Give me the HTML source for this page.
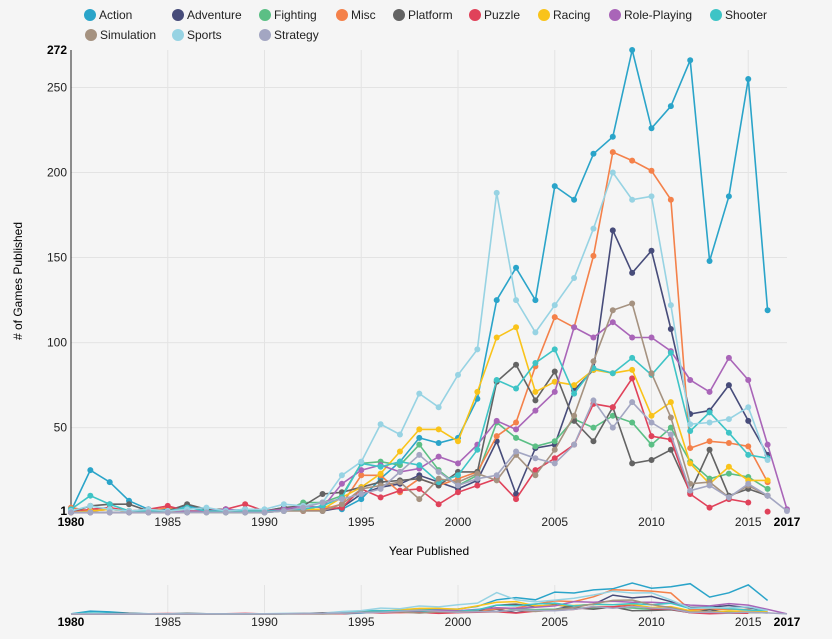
<!DOCTYPE html>
<html><head><meta charset="utf-8"><style>
body{margin:0;background:#f5f5f5;font-family:"Liberation Sans",sans-serif}
svg text{font-family:"Liberation Sans",sans-serif}
</style></head><body>
<svg id="s" width="832" height="634" xmlns="http://www.w3.org/2000/svg"></svg>
<script>
const S=document.getElementById('s');let h='';
const X=y=>71+(y-1980)*19.35, Y=v=>511-(v-1)*1.701, MY=v=>614-(v)*0.114;
const series=[
["Action","#2aa4c9",[1,25,18,7,2,2,4,2,1,2,1,3,2,4,2,8,20,30,44,41,44,67,125,144,125,192,184,211,221,272,226,239,266,148,186,255,119]],
["Adventure","#474c7a",[0,0,0,0,0,0,0,1,0,0,0,2,2,1,3,11,15,17,22,18,14,19,42,11,38,40,72,84,166,141,154,108,58,60,75,54,34]],
["Fighting","#5bbf85",[0,1,2,1,1,1,1,0,0,0,0,1,6,6,10,29,30,28,40,25,16,22,53,44,39,42,55,50,57,53,40,50,30,20,23,21,14]],
["Misc","#f4814a",[3,1,2,1,1,3,1,1,1,1,1,2,1,2,5,22,22,12,20,16,20,24,45,53,86,115,109,151,212,207,201,184,38,42,41,39,18]],
["Platform","#636363",[0,4,5,5,1,1,5,2,2,1,1,3,4,11,12,15,18,19,20,16,24,24,77,87,66,83,54,42,62,29,31,37,12,37,10,14,10]],
["Puzzle","#e0425a",[0,2,3,1,2,4,1,1,2,5,1,2,1,2,3,14,9,13,14,5,12,16,20,8,25,32,40,64,62,79,45,43,11,3,8,6]],
["Racing","#f9c31a",[0,1,2,1,1,1,1,1,1,1,1,1,2,2,9,15,23,36,49,49,42,71,103,109,71,77,75,84,82,84,57,65,29,17,27,19,19]],
["Role-Playing","#a965b8",[0,0,0,0,0,0,1,1,2,1,1,2,4,3,17,25,28,24,26,33,29,40,54,49,60,71,109,103,112,103,103,95,78,71,91,78,40,2]],
["Shooter","#3ec4c6",[2,10,5,1,1,1,3,1,1,1,1,1,2,4,9,29,27,30,28,18,22,37,78,73,88,96,70,85,82,91,81,94,48,59,47,34,32]],
["Simulation","#a59280",[0,0,0,0,0,0,0,0,0,0,0,1,1,1,5,14,16,18,8,20,18,23,19,34,22,37,57,89,119,123,82,56,17,18,9,16,10]],
["Sports","#97d3e3",[1,4,2,1,2,1,2,3,1,2,2,5,4,6,22,30,52,46,70,62,81,96,188,125,106,122,138,167,200,184,186,122,52,53,55,62,31]],
["Strategy","#a3a6c2",[0,0,0,0,0,0,0,0,0,0,0,1,3,6,8,11,14,24,34,24,16,20,22,36,32,29,40,66,50,65,53,46,13,16,9,17,10,1]]
];
// grid
[50,100,150,200,250].forEach(v=>h+=`<line x1="71" x2="787" y1="${Y(v)}" y2="${Y(v)}" stroke="#e3e3e3"/>`);
[1985,1990,1995,2000,2005,2010,2015].forEach(y=>{h+=`<line x1="${X(y)}" x2="${X(y)}" y1="50" y2="511" stroke="#e3e3e3"/><line x1="${X(y)}" x2="${X(y)}" y1="585" y2="614" stroke="#e3e3e3"/>`;
h+=`<text x="${X(y)}" y="526" font-size="12" text-anchor="middle" fill="#222">${y}</text><text x="${X(y)}" y="626" font-size="12" text-anchor="middle" fill="#222">${y}</text>`});
h+=`<line x1="71" x2="71" y1="50" y2="511" stroke="#222"/>`;
[[50,"50"],[100,"100"],[150,"150"],[200,"200"],[250,"250"]].forEach(([v,t])=>h+=`<text x="67" y="${Y(v)+4}" font-size="12" text-anchor="end" fill="#222">${t}</text>`);
h+=`<text x="67" y="54" font-size="12" font-weight="bold" text-anchor="end">272</text><text x="67" y="515" font-size="12" font-weight="bold" text-anchor="end">1</text>`;
h+=`<text x="71" y="526" font-size="12" font-weight="bold" text-anchor="middle">1980</text><text x="787" y="526" font-size="12" font-weight="bold" text-anchor="middle">2017</text>`;
h+=`<text x="71" y="626" font-size="12" font-weight="bold" text-anchor="middle">1980</text><text x="787" y="626" font-size="12" font-weight="bold" text-anchor="middle">2017</text>`;
h+=`<text x="429" y="555" font-size="12" text-anchor="middle">Year Published</text>`;
h+=`<text transform="translate(22,281) rotate(-90)" font-size="12" text-anchor="middle">Y# of Games Published</text>`.replace('>Y#','># ');
series.forEach(([n,c,d])=>{
 let p=d.map((v,i)=>`${X(1980+i).toFixed(1)},${Y(Math.max(v,0.2)).toFixed(1)}`).join(' ');
 h+=`<polyline points="${p}" fill="none" stroke="${c}" stroke-width="1.6"/>`;
 d.forEach((v,i)=>h+=`<circle cx="${X(1980+i)}" cy="${Y(Math.max(v,0.2))}" r="3" fill="${c}"/>`);
 let m=d.map((v,i)=>`${X(1980+i).toFixed(1)},${MY(v).toFixed(1)}`).join(' ');
 h+=`<polyline points="${m}" fill="none" stroke="${c}" stroke-width="1.5"/>`;
});
h+=`<circle cx="${X(2016)}" cy="${Y(0.6)}" r="3" fill="#e0425a"/>`;
const leg=[["Action",90,15],["Adventure",178,15],["Fighting",265,15],["Misc",342,15],["Platform",399,15],["Puzzle",475,15],["Racing",544,15],["Role-Playing",615,15],["Shooter",716,15],["Simulation",91,35],["Sports",178,35],["Strategy",265,35]];
leg.forEach(([n,x,y])=>{const c=series.find(s=>s[0]==n)[1];h+=`<circle cx="${x}" cy="${y}" r="6" fill="${c}"/><text x="${x+9}" y="${y+4}" font-size="12" fill="#222">${n}</text>`});
S.innerHTML=h;
</script>
</body></html>
